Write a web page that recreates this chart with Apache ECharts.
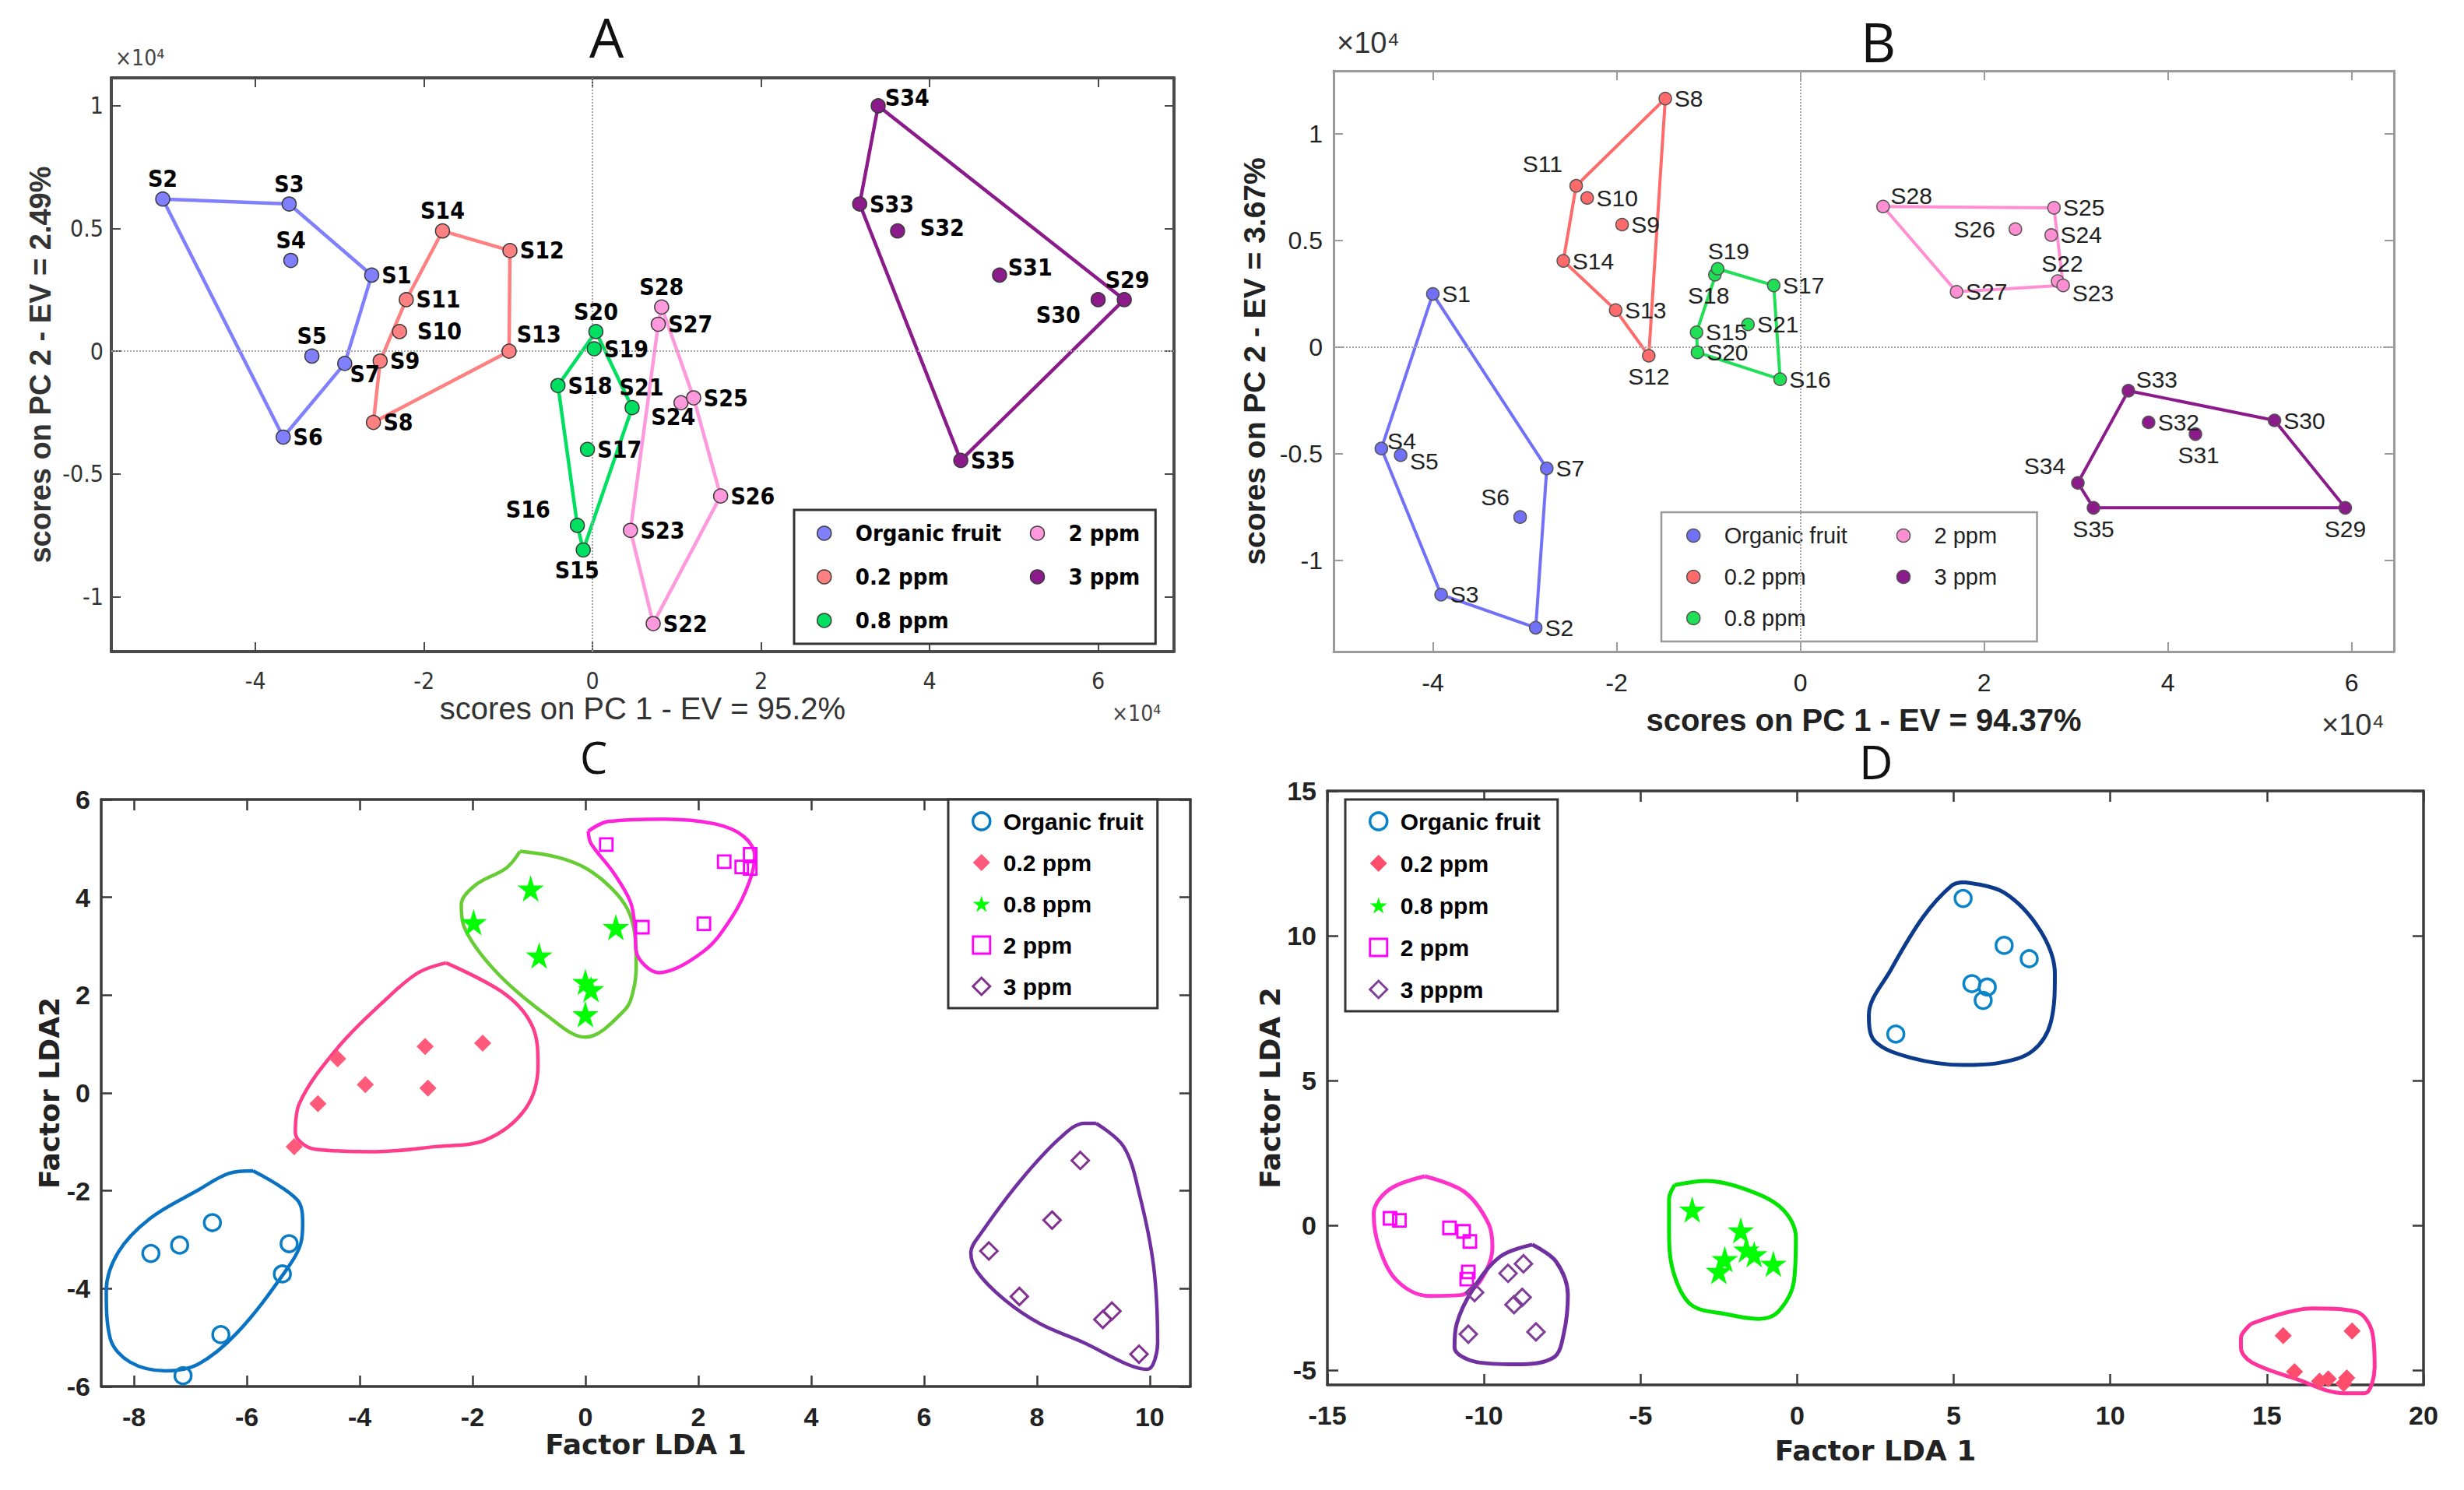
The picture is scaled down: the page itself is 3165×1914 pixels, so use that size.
<!DOCTYPE html>
<html><head><meta charset="utf-8">
<script src="https://cdn.jsdelivr.net/npm/echarts@6/dist/echarts.min.js"></script>
<style>html,body{margin:0;padding:0;background:#fff}#c{width:3165px;height:1914px}</style>
</head><body><div id="c"></div>
<script>
// ---------------- DATA ----------------
const groupsPCA = ['Organic fruit','0.2 ppm','0.8 ppm','2 ppm','3 ppm'];
const groupsD = ['Organic fruit','0.2 ppm','0.8 ppm','2 ppm','3 pppm'];

// Panel A (x10^4)
const A_org = [['S1',-2.62,0.31],['S2',-5.10,0.62],['S3',-3.60,0.60],['S4',-3.58,0.37],['S5',-3.33,-0.02],['S6',-3.67,-0.35],['S7',-2.94,-0.05]];
const A_p02 = [['S8',-2.60,-0.29],['S9',-2.52,-0.04],['S10',-2.29,0.08],['S11',-2.21,0.21],['S12',-0.98,0.41],['S13',-0.99,0.0],['S14',-1.78,0.49]];
const A_p08 = [['S15',-0.11,-0.81],['S16',-0.18,-0.71],['S17',-0.06,-0.40],['S18',-0.41,-0.14],['S19',0.02,0.01],['S20',0.04,0.08],['S21',0.47,-0.23]];
const A_p2  = [['S22',0.72,-1.11],['S23',0.45,-0.73],['S24',1.05,-0.21],['S25',1.20,-0.19],['S26',1.52,-0.59],['S27',0.78,0.11],['S28',0.82,0.18]];
const A_p3  = [['S29',6.31,0.21],['S30',6.00,0.21],['S31',4.83,0.31],['S32',3.62,0.49],['S33',3.17,0.60],['S34',3.39,1.00],['S35',4.37,-0.445]];
const A_hulls = [['S2','S3','S1','S7','S6'],['S14','S12','S13','S8','S9','S11'],['S20','S21','S15','S16','S18'],['S28','S25','S26','S22','S23','S27'],['S34','S29','S35','S33']];

// Panel B (x10^4)
const B_org = [['S1',-4.00,0.25],['S2',-2.88,-1.315],['S3',-3.91,-1.16],['S4',-4.56,-0.475],['S5',-4.35,-0.506],['S6',-3.05,-0.796],['S7',-2.76,-0.568]];
const B_p02 = [['S8',-1.47,1.166],['S9',-1.94,0.575],['S10',-2.32,0.70],['S11',-2.44,0.757],['S12',-1.65,-0.04],['S13',-2.01,0.174],['S14',-2.58,0.405]];
const B_p08 = [['S15',-1.13,0.07],['S16',-0.22,-0.15],['S17',-0.29,0.29],['S18',-0.93,0.34],['S19',-0.90,0.368],['S20',-1.12,-0.024],['S21',-0.57,0.107]];
const B_p2  = [['S22',2.80,0.31],['S23',2.86,0.29],['S24',2.73,0.526],['S25',2.76,0.654],['S26',2.34,0.554],['S27',1.70,0.26],['S28',0.90,0.66]];
const B_p3  = [['S29',5.93,-0.753],['S30',5.16,-0.343],['S31',4.30,-0.407],['S32',3.79,-0.352],['S33',3.57,-0.204],['S34',3.02,-0.636],['S35',3.19,-0.753]];
const B_hulls = [['S1','S7','S2','S3','S4'],['S8','S12','S13','S14','S11'],['S19','S17','S16','S20','S15'],['S28','S25','S23','S27'],['S33','S30','S29','S35','S34']];

// Panel C (LDA)
const C_org = [[-7.70,-3.28],[-7.19,-3.11],[-6.61,-2.65],[-5.25,-3.08],[-5.37,-3.70],[-6.46,-4.94],[-7.13,-5.78]];
const C_p02 = [[-4.39,0.70],[-4.74,-0.22],[-3.90,0.17],[-2.84,0.95],[-2.79,0.10],[-1.82,1.02],[-5.16,-1.10]];
const C_p08 = [[-1.98,3.49],[-0.97,4.18],[-0.82,2.81],[0.0,2.27],[0.1,2.12],[0.0,1.61],[0.54,3.39]];
const C_p2  = [[0.37,5.08],[1.01,3.39],[2.10,3.46],[2.46,4.73],[2.77,4.62],[2.92,4.88],[2.92,4.59]];
const C_p3  = [[8.77,-1.38],[8.27,-2.60],[7.15,-3.23],[7.69,-4.16],[9.17,-4.63],[9.33,-4.46],[9.81,-5.34]];
const C_org_out = [[-5.89,-1.59],[-5.11,-2.18],[-5.01,-2.67],[-5.04,-3.06],[-5.32,-3.65],[-6.17,-4.9],[-6.87,-5.55],[-7.44,-5.68],[-8.07,-5.5],[-8.42,-5.02],[-8.49,-4.04],[-8.28,-3.26],[-7.72,-2.57],[-6.87,-1.99],[-6.31,-1.64]];
const C_p02_out = [[-2.47,2.66],[-1.42,2.02],[-0.93,1.34],[-0.84,0.56],[-1.06,-0.32],[-1.77,-0.96],[-2.68,-1.1],[-3.73,-1.2],[-4.79,-1.15],[-5.14,-0.81],[-5.07,-0.22],[-4.37,0.95],[-3.52,1.93],[-2.96,2.46]];
const C_p08_out = [[-1.16,4.94],[-0.5,4.82],[0.0,4.6],[0.45,4.2],[0.75,3.75],[0.88,3.2],[0.9,2.6],[0.85,2.1],[0.7,1.7],[0.0,1.14],[-0.7,1.6],[-1.6,2.5],[-2.15,3.4],[-2.2,3.85],[-1.95,4.25],[-1.4,4.6]];
const C_p2_out  = [[0.05,5.35],[0.4,5.55],[1.4,5.6],[2.3,5.5],[2.8,5.25],[3.0,4.85],[2.9,4.3],[2.6,3.6],[2.1,2.9],[1.3,2.46],[0.9,2.9],[0.88,3.35],[0.8,3.9],[0.5,4.5],[0.1,5.1]];
const C_p3_out  = [[9.05,-0.62],[9.54,-1.10],[9.82,-2.08],[10.07,-3.55],[10.14,-5.11],[9.96,-5.65],[9.61,-5.55],[8.84,-5.11],[8.06,-4.72],[7.43,-4.23],[6.94,-3.65],[6.83,-3.26],[7.01,-2.87],[7.71,-1.79],[8.42,-0.91],[8.84,-0.62]];

// Panel D (LDA)
const D_org = [[5.30,11.29],[6.61,9.67],[7.41,9.21],[5.58,8.35],[6.07,8.23],[5.94,7.77],[3.15,6.61]];
const D_p02 = [[15.52,-3.80],[17.72,-3.64],[15.88,-5.04],[16.68,-5.37],[16.96,-5.29],[17.45,-5.45],[17.55,-5.26]];
const D_p08 = [[-3.35,0.55],[-1.80,-0.17],[-1.37,-0.99],[-1.62,-0.83],[-2.31,-1.16],[-2.50,-1.57],[-0.76,-1.32]];
const D_p2  = [[-13.0,0.25],[-12.7,0.18],[-11.1,-0.08],[-10.65,-0.2],[-10.45,-0.55],[-10.5,-1.6],[-10.55,-1.85]];
const D_p3  = [[-10.30,-2.31],[-9.23,-1.65],[-8.74,-1.32],[-8.78,-2.48],[-9.04,-2.73],[-10.5,-3.75],[-8.34,-3.67]];
const D_org_out = [[5.32,11.85],[6.61,11.49],[7.77,10.17],[8.23,8.68],[8.10,7.02],[7.52,6.03],[6.48,5.62],[5.32,5.54],[3.64,5.79],[2.48,6.36],[2.29,7.27],[3.0,8.84],[4.03,10.66],[4.94,11.74]];
const D_p02_out = [[14.5,-3.39],[16.45,-2.86],[17.86,-2.98],[18.37,-3.72],[18.44,-4.88],[18.12,-5.79],[17.47,-5.79],[15.92,-5.29],[14.5,-4.71],[14.17,-4.21],[14.17,-3.88]];
const D_p08_out = [[-3.91,1.40],[-2.89,1.54],[-1.62,1.24],[-0.48,0.58],[-0.04,-0.41],[-0.10,-1.90],[-0.61,-2.98],[-1.24,-3.22],[-2.25,-3.06],[-3.39,-2.73],[-3.96,-1.57],[-4.09,-0.08],[-4.09,0.91]];
const D_p2_out  = [[-11.89,1.70],[-10.62,1.16],[-9.86,0.08],[-9.73,-0.74],[-10.11,-1.90],[-10.75,-2.40],[-11.76,-2.43],[-12.78,-1.90],[-13.35,-0.74],[-13.52,0.41],[-13.03,1.24]];
const D_p3_out  = [[-8.46,-0.66],[-7.70,-1.24],[-7.32,-2.40],[-7.45,-3.72],[-7.77,-4.55],[-8.97,-4.79],[-10.24,-4.71],[-10.94,-4.21],[-10.87,-3.39],[-10.37,-2.23],[-9.48,-1.07]];

// ticks
const ticksPCx = [-4,-2,0,2,4,6];
const ticksPCy = [-1,-0.5,0,0.5,1];
const ticksCx = [-8,-6,-4,-2,0,2,4,6,8,10];
const ticksCy = [-6,-4,-2,0,2,4,6];
const ticksDx = [-15,-10,-5,0,5,10,15,20];
const ticksDy = [-5,0,5,10,15];

// ---------------- STYLE ----------------
const NARROW = '"Liberation Sans Narrow","Arial Narrow","DejaVu Sans Condensed","Liberation Sans",sans-serif';
const SANS = '"Liberation Sans",Arial,sans-serif';
const DJ = '"DejaVu Sans",sans-serif';
const LIGHT = '"Open Sans","Noto Sans",sans-serif';

const A_col = ['#8080ff','#ff8080','#00e060','#ff99dd','#8b1a8b'];
const B_col = ['#7070f8','#ff6b6b','#1fe055','#ff8fd2','#8b1a8b'];
const C_pt  = ['#0a7cc4','#ff5a7a','#00ff00','#ff00ff','#80308f'];
const C_ln  = ['#0a72c2','#ff3d8b','#66cc33','#ff22dd','#7030a0'];
const D_pt  = ['#0a84c9','#ff4d6d','#00ff00','#ff00ff','#7f3f98'];
const D_ln  = ['#0d3b8c','#ff3399','#00e400','#ff33cc','#7030a0'];
const STAR = 'path://M50,0 L61,35 L98,35 L68,57 L79,91 L50,70 L21,91 L32,57 L2,35 L39,35 Z';

const A_lab = {S2:['top',0,2],S3:['top',0,2],S4:['top',0,2],S5:['top',0,2],S14:['top',0,2],S20:['top',0,2],S28:['top',0,2],S29:['top',4,2],
  S16:['left',-22,-20],S15:['bottom',-8,-2],S30:['left',-10,20],S7:['right',-6,14],S24:['bottom',-10,-10],S21:['top',12,2],
  S34:['right',-4,-10],S31:['right',-2,-10],S32:['right',16,-4],S13:['right',-3,-22],S10:['right',10,0]};
const B_lab = {S11:['left',-6,-28],S12:['bottom',0,0],S26:['left',-14,0],S22:['top',6,4],S23:['right',0,10],S34:['left',-4,-22],S35:['bottom',0,0],
  S29:['bottom',0,0],S31:['bottom',4,0],S6:['left',-2,-26],S18:['bottom',-8,0],S19:['top',14,4],S28:['right',-2,-14],S33:['right',-2,-14],S4:['right',-4,-10],S5:['right',0,8]};

// ---------------- BUILDERS ----------------
function axisSet(gi, xt, yt, st, xName, yName) {
  const mk = (kind, main, ticks, name) => ({
    type:'value', gridIndex:gi, position: kind==='x'?(main?'bottom':'top'):(main?'left':'right'),
    axisLine:{show:true, onZero:false, lineStyle:{color:st.line, width:st.lw}},
    axisTick:{show:true, inside:true, length:st.tl, lineStyle:{color:st.line, width:st.tw}, customValues:ticks},
    axisLabel:{show:main, customValues:ticks, color:st.lab, fontSize:st.fs, fontFamily:st.ff, fontWeight:st.fw, margin: kind==='x'?st.lmx:st.lmy},
    splitLine:{show:false},
    name: main?name:'', nameLocation:'middle', nameGap: kind==='x'?st.ngx:st.ngy,
    nameTextStyle:{color:st.nc, fontSize: kind==='x'?st.nfx:st.nfy, fontFamily:st.nff, fontWeight: kind==='x'?st.nwx:st.nwy}
  });
  return {x:[mk('x',true,xt,xName), mk('x',false,xt,'')], y:[mk('y',true,yt,yName), mk('y',false,yt,'')]};
}
function setRange(axes, xmin, xmax, ymin, ymax){ axes.x.forEach(a=>{a.min=xmin;a.max=xmax;}); axes.y.forEach(a=>{a.min=ymin;a.max=ymax;}); return axes; }

function pcaPoints(pts, name, ai, fill, edge, size, labOv, lab) {
  return {type:'scatter', name, xAxisIndex:ai, yAxisIndex:ai, symbol:'circle', symbolSize:size,
    itemStyle:{color:fill, borderColor:edge, borderWidth:1.5, opacity:1},
    label:{show:true, position:'right', distance:3, formatter:p=>p.name, color:lab.color, fontSize:lab.fs, fontFamily:lab.ff, fontWeight:lab.fw},
    data: pts.map(p=>{const d={name:p[0], value:[p[1],p[2]]}; const o=labOv[p[0]]; if(o) d.label={position:o[0], offset:[o[1],o[2]]}; return d;}),
    z:5, silent:true};
}
function hull(pts, order, ai, color, w, name, mark) {
  const m = {}; pts.forEach(p=>{m[p[0]]=[p[1],p[2]];});
  const s = {type:'line', name, xAxisIndex:ai, yAxisIndex:ai, data: order.concat([order[0]]).map(n=>m[n]),
    symbol:'none', showSymbol:false, lineStyle:{color, width:w}, z:3, silent:true};
  if (mark) s.markLine = {silent:true, symbol:['none','none'], label:{show:false}, lineStyle:{type:'dotted', color:'#a8a8a8', width:2}, data:[{xAxis:0},{yAxis:0}]};
  return s;
}
function ldaPoints(pts, name, ai, symbol, size, color, filled, bw) {
  return {type:'scatter', name, xAxisIndex:ai, yAxisIndex:ai, symbol, symbolSize:size,
    itemStyle: filled ? {color, opacity:1} : {color:'rgba(255,255,255,0)', borderColor:color, borderWidth:bw, opacity:1},
    data: pts, z:5, silent:true};
}
function outline(pts, ai, color, w, name) {
  return {type:'line', name, xAxisIndex:ai, yAxisIndex:ai, data: pts.concat([pts[0]]), smooth:0.35, symbol:'none', showSymbol:false,
    clip:false, lineStyle:{color, width:w}, z:3, silent:true};
}

// ---------------- AXES ----------------
const stA = {line:'#4a4a4a', lw:4, tl:12, tw:2, lab:'#333', fs:30, ff:NARROW, fw:'normal', lmx:22, lmy:10, ngx:48, ngy:72, nc:'#333', nfx:40, nfy:38, nff:SANS, nwx:'normal', nwy:'bold'};
const stB = {line:'#9a9a9a', lw:3, tl:12, tw:2, lab:'#222', fs:32, ff:SANS, fw:'normal', lmx:24, lmy:14, ngx:68, ngy:82, nc:'#222', nfx:40, nfy:39, nff:SANS, nwx:'bold', nwy:'bold'};
const stC = {line:'#3a3a3a', lw:3.5, tl:14, tw:2.5, lab:'#222', fs:34, ff:SANS, fw:'bold', lmx:22, lmy:14, ngx:56, ngy:48, nc:'#222', nfx:36, nfy:36, nff:DJ, nwx:'bold', nwy:'bold'};
const stD = Object.assign({}, stC, {ngx:66, ngy:40});

const axA = setRange(axisSet(0,ticksPCx,ticksPCy,stA,'scores on PC 1 - EV = 95.2%','scores on PC 2 - EV = 2.49%'), -5.71, 6.90, -1.224, 1.114);
const axB = setRange(axisSet(1,ticksPCx,ticksPCy,stB,'scores on PC 1 - EV = 94.37%','scores on PC 2 - EV = 3.67%'), -5.08, 6.46, -1.427, 1.296);
const axC = setRange(axisSet(2,ticksCx,ticksCy,stC,'Factor LDA 1','Factor LDA2'), -8.58, 10.72, -6, 6);
const axD = setRange(axisSet(3,ticksDx,ticksDy,stD,'Factor LDA 1','Factor LDA 2'), -15, 20, -5.5, 15);

const xAxis = [axA.x[0],axA.x[1],axB.x[0],axB.x[1],axC.x[0],axC.x[1],axD.x[0],axD.x[1]];
const yAxis = [axA.y[0],axA.y[1],axB.y[0],axB.y[1],axC.y[0],axC.y[1],axD.y[0],axD.y[1]];

// ---------------- SERIES ----------------
const series = [];
const labA = {color:'#000', fs:30, ff:NARROW, fw:'bold'};
const labB = {color:'#222', fs:30, ff:SANS, fw:'normal'};
const Apts = [A_org,A_p02,A_p08,A_p2,A_p3];
const Bpts = [B_org,B_p02,B_p08,B_p2,B_p3];
Apts.forEach((p,i)=>series.push(hull(p, A_hulls[i], 0, A_col[i], 4.5, 'hullA'+i, i===0)));
Apts.forEach((p,i)=>series.push(pcaPoints(p, groupsPCA[i], 0, A_col[i], '#3a3a3a', 18, A_lab, labA)));
Bpts.forEach((p,i)=>series.push(hull(p, B_hulls[i], 2, B_col[i], 4, 'hullB'+i, i===0)));
Bpts.forEach((p,i)=>series.push(pcaPoints(p, groupsPCA[i], 2, B_col[i], '#555', 16, B_lab, labB)));

const syms = ['circle','diamond',STAR,'rect','diamond'];
const filledC = [false,true,true,false,false];
const sizeC = [21,22,34,16,22];
const bwC = [3.5,0,0,2.8,3];
[C_org_out,C_p02_out,C_p08_out,C_p2_out,C_p3_out].forEach((o,i)=>series.push(outline(o,4,C_ln[i],4.5,'outC'+i)));
[C_org,C_p02,C_p08,C_p2,C_p3].forEach((p,i)=>series.push(ldaPoints(p, groupsPCA[i], 4, syms[i], sizeC[i], C_pt[i], filledC[i], bwC[i])));
[D_org_out,D_p02_out,D_p08_out,D_p2_out,D_p3_out].forEach((o,i)=>series.push(outline(o,6,D_ln[i],5,'outD'+i)));
[D_org,D_p02,D_p08,D_p2,D_p3].forEach((p,i)=>series.push(ldaPoints(p, groupsD[i], 6, syms[i], sizeC[i], D_pt[i], filledC[i], bwC[i])));

// ---------------- LEGENDS ----------------
function pcaLegendData(cols, edge, w1, w2) {
  return groupsPCA.map((g,i)=>({name:g, icon:'circle', itemStyle:{color:cols[i], borderColor:edge, borderWidth:1.5},
    textStyle:{width: i<3?w1:w2}}));
}
function ldaLegendData(groups, cols) {
  return groups.map((g,i)=>({name:g, icon:syms[i],
    itemStyle: filledC[i] ? {color:cols[i], borderWidth:0} : {color:'rgba(255,255,255,0)', borderColor:cols[i], borderWidth:bwC[i]}}));
}
const legend = [
  {left:1020, top:655, orient:'vertical', height:150, itemGap:24, itemWidth:18, itemHeight:18,
   padding:[14,20,14,29], borderColor:'#333', borderWidth:3, backgroundColor:'#fff', selectedMode:false,
   textStyle:{fontFamily:NARROW, fontSize:29, fontWeight:'bold', color:'#000', padding:[0,0,0,26], lineHeight:32},
   data: pcaLegendData(A_col,'#3a3a3a',200,80)},
  {left:2134, top:658, orient:'vertical', height:140, itemGap:21, itemWidth:17, itemHeight:17,
   padding:[14,20,14,32], borderColor:'#999', borderWidth:2.5, backgroundColor:'#fff', selectedMode:false,
   textStyle:{fontFamily:SANS, fontSize:29, color:'#222', padding:[0,0,0,26], lineHeight:32},
   data: pcaLegendData(B_col,'#555',200,112)},
  {left:1218, top:1027, orient:'vertical', itemGap:21, itemWidth:22, itemHeight:22,
   padding:[12,18,12,30], borderColor:'#333', borderWidth:3, backgroundColor:'#fff', selectedMode:false,
   textStyle:{fontFamily:SANS, fontSize:30, fontWeight:'bold', color:'#000', padding:[0,0,0,12], lineHeight:32},
   data: ldaLegendData(groupsPCA, C_pt)},
  {left:1728, top:1027, orient:'vertical', itemGap:22, itemWidth:22, itemHeight:22,
   padding:[12,22,12,30], borderColor:'#333', borderWidth:3, backgroundColor:'#fff', selectedMode:false,
   textStyle:{fontFamily:SANS, fontSize:30, fontWeight:'bold', color:'#000', padding:[0,0,0,12], lineHeight:32},
   data: ldaLegendData(groupsD, D_pt)}
];

// ---------------- TITLES ----------------
const tStyle = (fs, ff, col, fw) => ({fontSize:fs, fontFamily:ff, color:col, fontWeight:fw||'normal'});
const title = [
  {text:'A', left:757, top:12, padding:0, textStyle:tStyle(70, LIGHT, '#111')},
  {text:'×10⁴', left:148, top:60, padding:0, textStyle:tStyle(28, NARROW, '#444')},
  {text:'×10⁴', left:1428, top:902, padding:0, textStyle:tStyle(28, NARROW, '#444')},
  {text:'B', left:2390, top:18, padding:0, textStyle:tStyle(70, LIGHT, '#111')},
  {text:'×10⁴', left:1717, top:36, padding:0, textStyle:tStyle(38, SANS, '#333')},
  {text:'×10⁴', left:2982, top:912, padding:0, textStyle:tStyle(38, SANS, '#333')},
  {text:'C', left:745, top:944, padding:0, textStyle:tStyle(56, LIGHT, '#111')},
  {text:'D', left:2388, top:948, padding:0, textStyle:tStyle(60, LIGHT, '#111')}
];

const chart = echarts.init(document.getElementById('c'), null, {renderer:'svg'});
chart.setOption({
  animation:false, backgroundColor:'#fff',
  title, legend,
  grid:[
    {left:143, top:100, width:1365, height:737},
    {left:1713, top:91, width:1362, height:746},
    {left:130, top:1027, width:1399, height:754},
    {left:1705, top:1016, width:1408, height:763}
  ],
  xAxis, yAxis, series
});
</script></body></html>
